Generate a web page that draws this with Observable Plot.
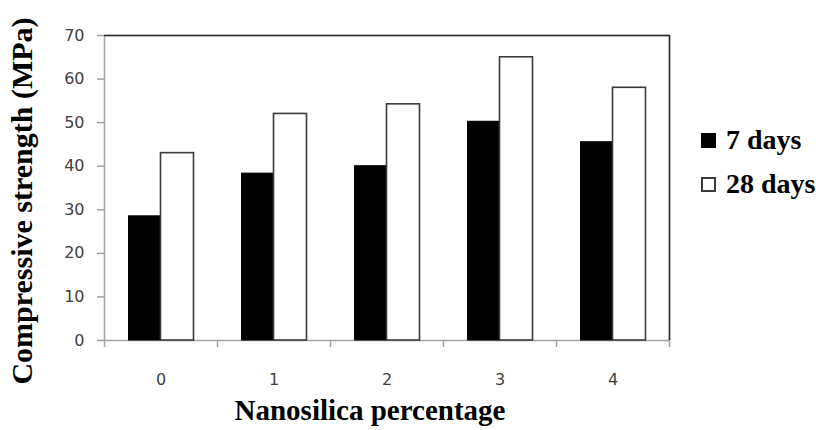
<!DOCTYPE html>
<html><head><meta charset="utf-8">
<script src="https://cdn.jsdelivr.net/npm/d3@7"></script>
<script src="https://cdn.jsdelivr.net/npm/@observablehq/plot@0.6"></script>
<style>
body{margin:0;background:#fff;}
#wrap{position:relative;width:820px;height:430px;overflow:hidden;}
#legend{position:absolute;left:701px;top:118px;font-family:"Liberation Serif","Times New Roman",serif;font-weight:bold;font-size:28px;color:#000;}
.row{display:flex;align-items:center;height:44px;white-space:nowrap;}
.sw{width:15px;height:15px;box-sizing:border-box;margin-right:10px;}
</style></head><body><div id="wrap"><div id="legend"></div></div>
<script>
const categories = ["0", "1", "2", "3", "4"];
const seriesNames = ["7 days", "28 days"];
const days7 = [28.5, 38.3, 40.0, 50.2, 45.5];
const days28 = [43.0, 52.0, 54.2, 65.0, 58.0];
const yTicks = [0, 10, 20, 30, 40, 50, 60, 70];
const xLabel = "Nanosilica percentage";
const yLabel = "Compressive strength (MPa)";

const rows7 = categories.map((c, i) => ({cat: c, value: days7[i]}));
const rows28 = categories.map((c, i) => ({cat: c, value: days28[i]}));

const W = 820, H = 430, mL = 104, mR = 151, mT = 35, mB = 90;
const step = (W - mL - mR) / categories.length;
const grey = "#a3a3a3";
const dark = "#262626";
const serif = "Liberation Serif, Times New Roman, serif";

const chart = Plot.plot({
  width: W, height: H,
  marginLeft: mL, marginRight: mR, marginTop: mT, marginBottom: mB,
  style: {fontFamily: "DejaVu Sans, Verdana, sans-serif", background: "#fff"},
  x: {domain: categories, padding: 0, label: null},
  y: {domain: [0, 70], label: null},
  marks: [
    Plot.frame({stroke: grey, strokeWidth: 1.5}),
    Plot.barY(rows7, {x: "cat", y: "value", fill: "#000", stroke: "#000", strokeWidth: 1,
      insetLeft: step * 0.217, insetRight: step * 0.5}),
    Plot.barY(rows28, {x: "cat", y: "value", fill: "#fff", stroke: "#3a3a3a", strokeWidth: 1.6,
      insetLeft: step * 0.5, insetRight: step * 0.208}),
    Plot.ruleY([70], {stroke: dark, strokeWidth: 1.5}),
    Plot.ruleX([categories[categories.length - 1]], {x: d => d, dx: step / 2, stroke: dark, strokeWidth: 1.5}),
    Plot.axisY({ticks: yTicks, tickSize: 7, tickPadding: 13, fontSize: 16, stroke: grey, strokeWidth: 1.5, fill: "#404040", label: null}),
    Plot.axisX({ticks: categories, tickSize: 7, tickFormat: () => "", dx: -step / 2, stroke: grey, strokeWidth: 1.5, label: null}),
    Plot.axisX({ticks: [categories[categories.length - 1]], tickSize: 7, tickFormat: () => "", dx: step / 2, stroke: grey, strokeWidth: 1.5, label: null}),
    Plot.axisX({tickSize: 0, tickPadding: 33, fontSize: 16, fill: "#404040", label: null}),
    Plot.text([xLabel], {text: d => d, frameAnchor: "bottom", textAnchor: "middle", dx: -17, dy: 79, fontSize: 29, fontWeight: "bold", fontFamily: serif, fill: "#000"}),
    Plot.text([yLabel], {text: d => d, frameAnchor: "left", textAnchor: "middle", rotate: -90, dx: -82, dy: 13, fontSize: 30, fontWeight: "bold", fontFamily: serif, fill: "#000"})
  ]
});
document.getElementById("wrap").prepend(chart);

const legend = document.getElementById("legend");
const swatches = [{fill: "#000", border: "#000"}, {fill: "#fff", border: "#3a3a3a"}];
seriesNames.forEach((name, i) => {
  const row = document.createElement("div");
  row.className = "row";
  const sw = document.createElement("span");
  sw.className = "sw";
  sw.style.background = swatches[i].fill;
  sw.style.border = `2px solid ${swatches[i].border}`;
  const label = document.createElement("span");
  label.textContent = name;
  row.append(sw, label);
  legend.append(row);
});
</script></body></html>
